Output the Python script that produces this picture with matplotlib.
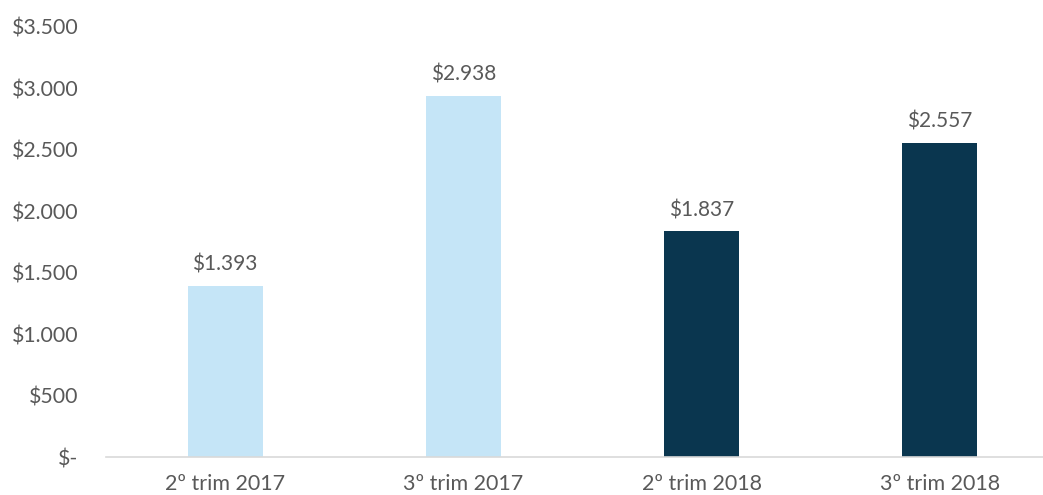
import matplotlib
matplotlib.use("Agg")
import matplotlib.pyplot as plt

categories = ["2º trim 2017", "3º trim 2017", "2º trim 2018", "3º trim 2018"]
values = [1393, 2938, 1837, 2557]
colors = ["#C5E5F7", "#C5E5F7", "#0A364F", "#0A364F"]
yticks = [0, 500, 1000, 1500, 2000, 2500, 3000, 3500]
ytick_labels = ["$-", "$500", "$1.000", "$1.500", "$2.000", "$2.500", "$3.000", "$3.500"]
value_labels = ["$1.393", "$2.938", "$1.837", "$2.557"]

plt.rcParams['font.family'] = ['Lato', 'DejaVu Sans']
txt = "#595959"

fig = plt.figure(figsize=(10.43, 4.95), dpi=100)
ax = fig.add_axes([106/1043, 38/495, 953/1043, 430/495])
x = range(len(categories))
ax.bar(x, values, width=0.315, color=colors)
for xi, v, lab in zip(x, values, value_labels):
    ax.annotate(lab, (xi, v), xytext=(0, 8), textcoords="offset points",
                ha="center", va="bottom", fontsize=15, color=txt)
ax.set_xlim(-0.5, 3.5)
ax.set_ylim(0, 3500)
ax.set_yticks(yticks)
ax.set_yticklabels(ytick_labels)
ax.set_xticks(list(x))
ax.set_xticklabels(categories)
ax.tick_params(axis="y", length=0, pad=20, labelsize=15.3, labelcolor=txt)
ax.tick_params(axis="x", length=0, pad=12, labelsize=15.5, labelcolor=txt)
for s in ["top", "right", "left"]:
    ax.spines[s].set_visible(False)
ax.spines["bottom"].set_color("#D9D9D9")
ax.spines["bottom"].set_linewidth(1.2)
fig.savefig("out.png", dpi=100)
